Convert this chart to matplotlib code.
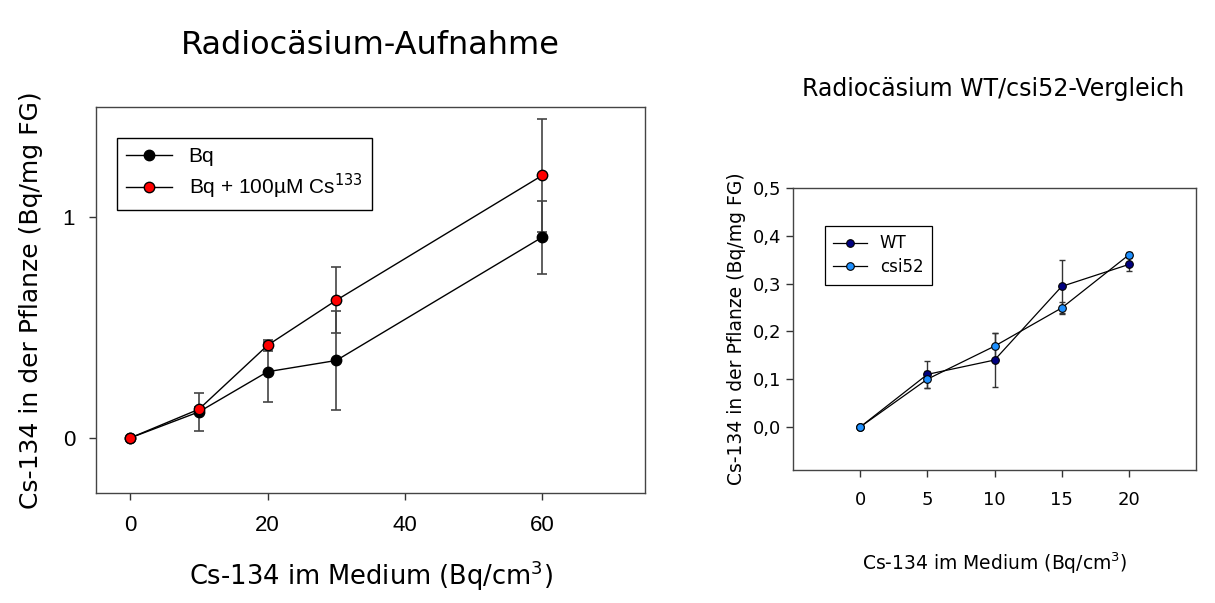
import numpy as np
import matplotlib
matplotlib.use("Agg")
import matplotlib.pyplot as plt

plt.rcParams['font.family'] = ['DejaVu Sans']
plt.rcParams['mathtext.fontset'] = 'dejavusans'

# linkes Diagramm: Aufnahme
conc_left = [0, 10, 20, 30, 60]
bq = [0.0, 0.118, 0.30, 0.351, 0.91]
bq_err = [0.0, 0.085, 0.136, 0.225, 0.165]
bq_cs = [0.0, 0.13, 0.42, 0.624, 1.19]
bq_cs_err = [0.0, 0.01, 0.025, 0.15, 0.255]

# rechtes Diagramm: WT / csi52
conc_right = [0, 5, 10, 15, 20]
wt = [0.0, 0.110, 0.140, 0.294, 0.340]
wt_err = [0.0, 0.028, 0.057, 0.056, 0.014]
csi52 = [0.0, 0.100, 0.169, 0.249, 0.360]
csi52_err = [0.0, 0.018, 0.027, 0.012, 0.005]

fig = plt.figure(figsize=(12.15, 6.03), dpi=100)

def style_axes(ax, lsize):
    for s in ['top', 'right', 'left', 'bottom']:
        ax.spines[s].set_color('#444444')
        ax.spines[s].set_linewidth(1.0)
    ax.tick_params(direction='out', length=5, width=1, color='#333333', labelsize=lsize)

# ---- links
ax1 = fig.add_axes([0.079, 0.1824, 0.452, 0.640])
ax1.errorbar(conc_left, bq, yerr=bq_err, fmt='none', ecolor='#444444', elinewidth=1.2, capsize=3.5, capthick=1.2, zorder=1)
ax1.errorbar(conc_left, bq_cs, yerr=bq_cs_err, fmt='none', ecolor='#444444', elinewidth=1.2, capsize=3.5, capthick=1.2, zorder=1)
ax1.plot(conc_left, bq, '-o', color='black', lw=1, markersize=7.5, markerfacecolor='black',
         markeredgecolor='black', label='Bq', zorder=3)
ax1.plot(conc_left, bq_cs, '-o', color='black', lw=1, markersize=7.5, markerfacecolor='red',
         markeredgecolor='black', label='Bq + 100µM Cs$^{133}$', zorder=4)
ax1.set_xlim(-5, 75)
ax1.set_ylim(-0.25, 1.5)
ax1.set_xticks([0, 20, 40, 60])
ax1.set_yticks([0, 1])
style_axes(ax1, 16)
for lab in ax1.get_xticklabels() + ax1.get_yticklabels():
    lab.set_family('Liberation Sans')
ax1.tick_params(axis='x', pad=11)
ax1.tick_params(axis='y', pad=10)
ax1.set_xlabel('Cs-134 im Medium (Bq/cm$^3$)', fontsize=18.5, labelpad=16)
ax1.set_ylabel('Cs-134 in der Pflanze (Bq/mg FG)', fontsize=18, labelpad=14)
leg1 = ax1.legend(loc='upper left', bbox_to_anchor=(0.038, 0.92), borderaxespad=0, fancybox=False,
                  framealpha=1, edgecolor='black', prop={'family': 'Liberation Sans', 'size': 15},
                  handlelength=2.2, borderpad=0.45, labelspacing=0.25)
leg1.get_frame().set_linewidth(1.0)
fig.text(0.305, 0.925, 'Radiocäsium-Aufnahme', fontsize=23, ha='center', va='center')

# ---- rechts
ax2 = fig.add_axes([0.6527, 0.2206, 0.3317, 0.4677])
ax2.errorbar(conc_right, wt, yerr=wt_err, fmt='none', ecolor='#333333', elinewidth=1, capsize=2.5, capthick=1, zorder=1)
ax2.errorbar(conc_right, csi52, yerr=csi52_err, fmt='none', ecolor='#333333', elinewidth=1, capsize=2.5, capthick=1, zorder=1)
ax2.plot(conc_right, wt, '-o', color='black', lw=0.9, markersize=5.5, markerfacecolor='#000080',
         markeredgecolor='black', markeredgewidth=0.8, label='WT', zorder=3)
ax2.plot(conc_right, csi52, '-o', color='black', lw=0.9, markersize=5.5, markerfacecolor='#1E90FF',
         markeredgecolor='black', markeredgewidth=0.8, label='csi52', zorder=4)
ax2.set_xlim(-5, 25)
ax2.set_ylim(-0.09, 0.5)
ax2.set_xticks([0, 5, 10, 15, 20])
yt = [0.0, 0.1, 0.2, 0.3, 0.4, 0.5]
ax2.set_yticks(yt)
ax2.set_yticklabels([('%.1f' % v).replace('.', ',') for v in yt])
style_axes(ax2, 13)
ax2.tick_params(axis='x', pad=10)
ax2.set_xlabel('Cs-134 im Medium (Bq/cm$^3$)', fontsize=13.5, labelpad=30)
ax2.set_ylabel('Cs-134 in der Pflanze (Bq/mg FG)', fontsize=13.5, labelpad=5)
leg2 = ax2.legend(loc='upper left', bbox_to_anchor=(0.079, 0.865), borderaxespad=0, fancybox=False,
                  framealpha=1, edgecolor='black', prop={'size': 12}, handlelength=2.0,
                  borderpad=0.5, labelspacing=0.35)
leg2.get_frame().set_linewidth(0.9)
fig.text(0.817, 0.852, 'Radiocäsium WT/csi52-Vergleich', fontsize=17, ha='center', va='center')

fig.savefig('out.png', dpi=100)
